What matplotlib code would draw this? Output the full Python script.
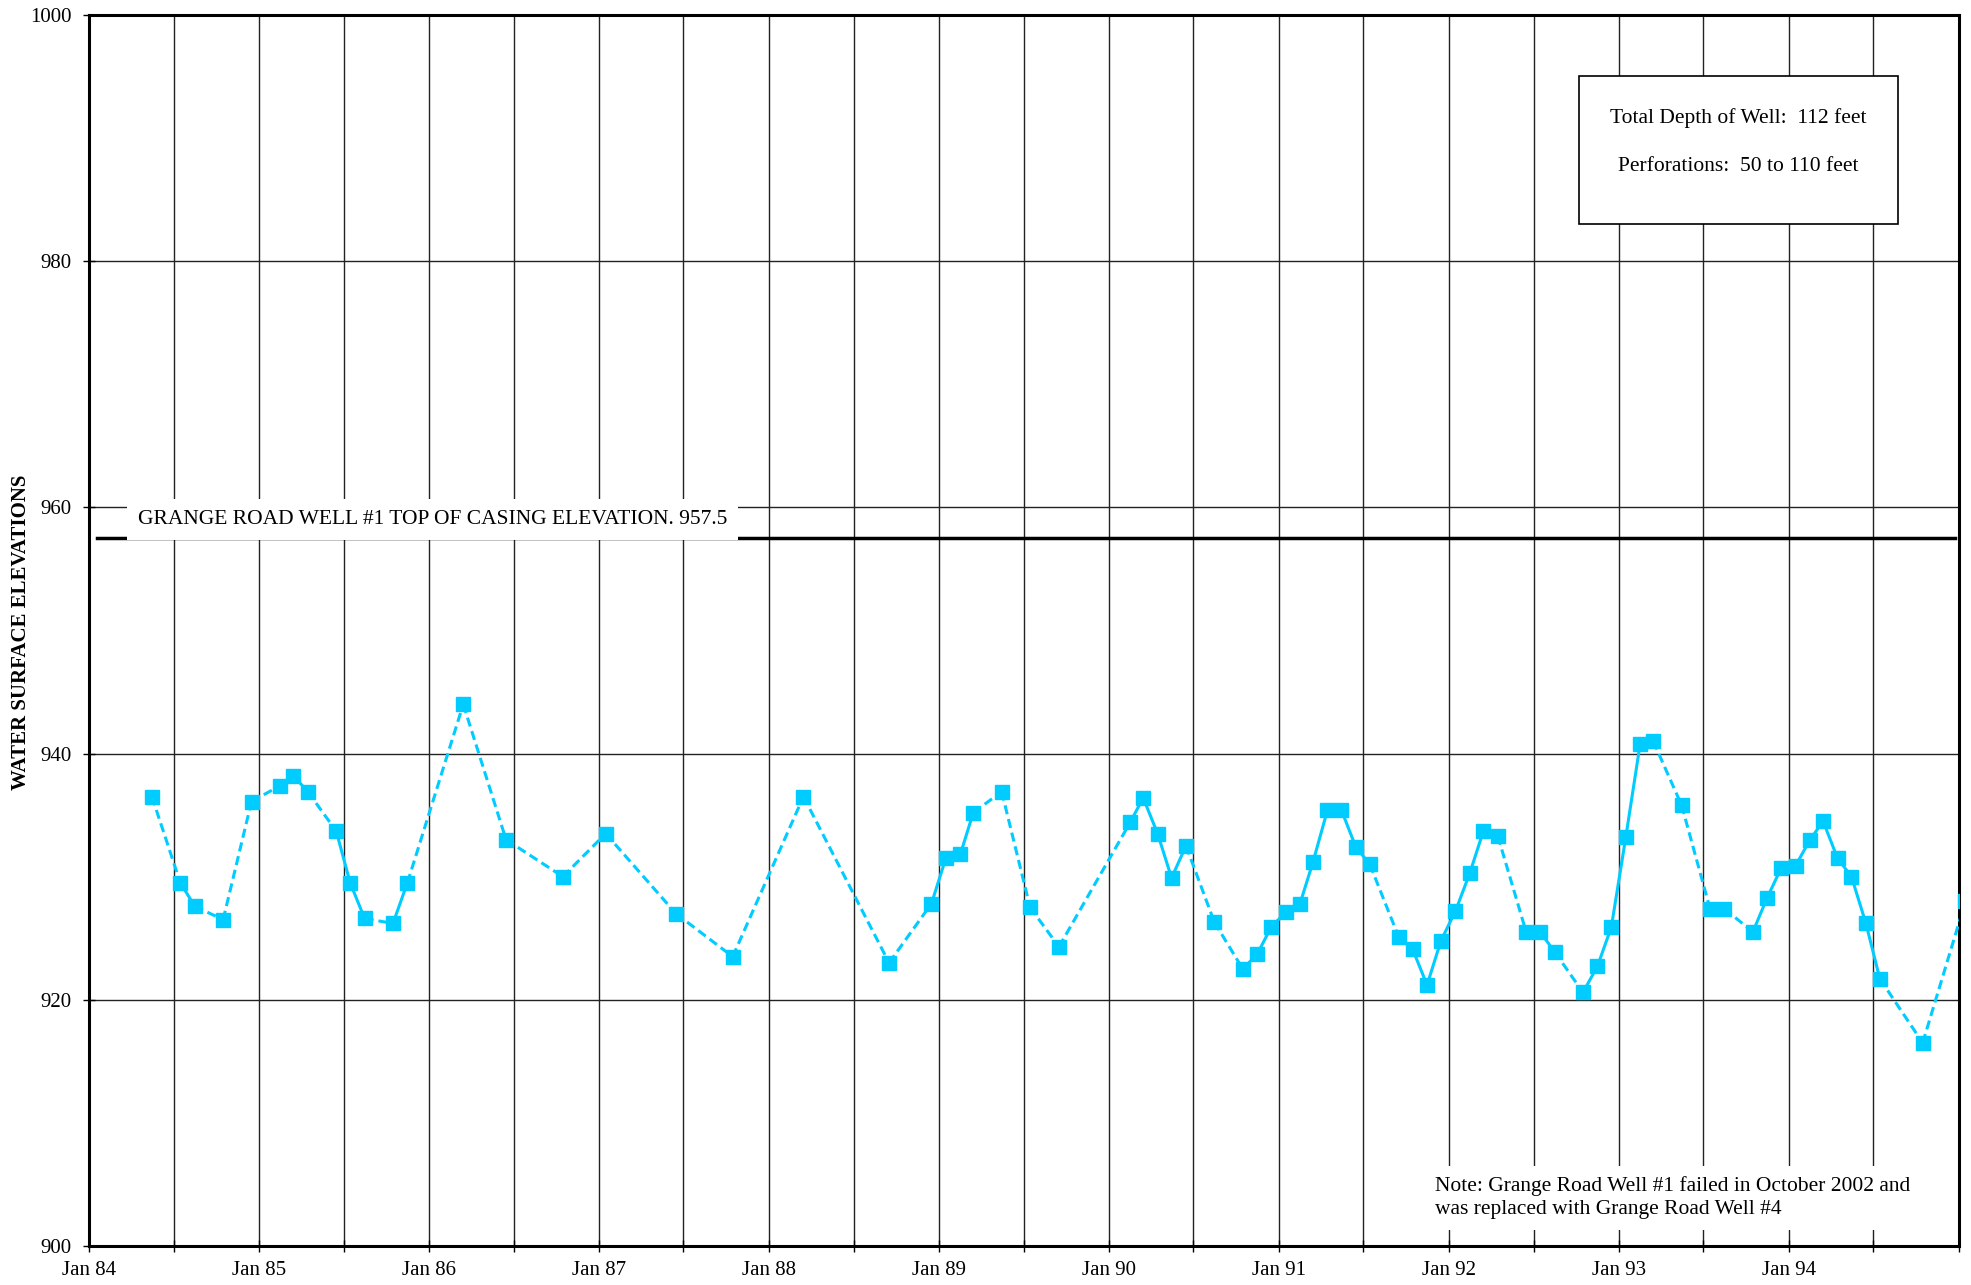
import datetime as dt
import matplotlib
matplotlib.use('Agg')
import matplotlib.pyplot as plt
import matplotlib.dates as mdates
from matplotlib.ticker import FuncFormatter
from matplotlib.patches import Rectangle

plt.rcParams['font.family'] = ['Liberation Serif', 'DejaVu Serif']

# measurement dates (year, month) and water surface elevations (feet)
years = [1984, 1984, 1984, 1984, 1984,
         1985, 1985, 1985, 1985, 1985, 1985, 1985, 1985,
         1986, 1986, 1986,
         1987, 1987, 1987,
         1988, 1988, 1988,
         1989, 1989, 1989, 1989, 1989, 1989,
         1990, 1990, 1990, 1990, 1990, 1990, 1990, 1990, 1990,
         1991, 1991, 1991, 1991, 1991, 1991, 1991, 1991, 1991, 1991, 1991,
         1992, 1992, 1992, 1992, 1992, 1992, 1992, 1992, 1992, 1992,
         1993, 1993, 1993, 1993, 1993, 1993, 1993, 1993, 1993,
         1994, 1994, 1994, 1994, 1994, 1994, 1994, 1994,
         1995]
months = [5, 7, 8, 10, 12,
          2, 3, 4, 6, 7, 8, 10, 11,
          3, 6, 10,
          1, 6, 10,
          3, 9, 12,
          1, 2, 3, 5, 7, 9,
          2, 3, 4, 5, 6, 8, 10, 11, 12,
          1, 2, 3, 4, 5, 6, 7, 9, 10, 11, 12,
          1, 2, 3, 4, 6, 7, 8, 10, 11, 12,
          1, 2, 3, 5, 7, 8, 10, 11, 12,
          1, 2, 3, 4, 5, 6, 7, 10,
          1]
elev = [936.5, 929.5, 927.6, 926.5, 936.1,
        937.4, 938.2, 936.9, 933.7, 929.5, 926.6, 926.2, 929.5,
        944.0, 933.0, 930.0,
        933.5, 927.0, 923.5,
        936.5, 923.0, 927.8,
        931.5, 931.8, 935.2, 936.9, 927.5, 924.3,
        934.4, 936.4, 933.5, 929.9, 932.5, 926.3, 922.5, 923.7, 925.9,
        927.1, 927.8, 931.2, 935.4, 935.4, 932.4, 931.0, 925.1, 924.1, 921.2, 924.8,
        927.2, 930.3, 933.7, 933.3, 925.5, 925.5, 923.9, 920.6, 922.7, 925.9,
        933.2, 940.8, 941.0, 935.8, 927.4, 927.4, 925.5, 928.3, 930.7,
        930.9, 933.0, 934.5, 931.5, 930.0, 926.2, 921.7, 916.5,
        928.0]

casing_elev = 957.5
casing_label = "GRANGE ROAD WELL #1 TOP OF CASING ELEVATION. 957.5"
info_lines = ["Total Depth of Well:  112 feet", "Perforations:  50 to 110 feet"]
note = "Note: Grange Road Well #1 failed in October 2002 and\nwas replaced with Grange Road Well #4"

dates = [dt.date(y, m, 15) for y, m in zip(years, months)]
cyan = '#00CCFF'

fig = plt.figure(figsize=(19.71, 12.85), dpi=100)
ax = fig.add_axes([0.0452, 0.0304, 0.9487, 0.9580])

# solid where readings are a month apart, dashed across longer gaps
for i in range(len(dates) - 1):
    gap = (dates[i + 1] - dates[i]).days
    ls = '-' if gap <= 35 else (0, (3, 1.6))
    ax.plot(dates[i:i + 2], elev[i:i + 2], color=cyan, lw=2.2, ls=ls, zorder=3)
ax.plot(dates, elev, ls='none', marker='s', ms=10.5, color=cyan, zorder=4)

ax.set_xlim(dt.date(1984, 1, 1), dt.date(1995, 1, 1))
ax.set_ylim(900, 1000)
ax.set_yticks(range(900, 1001, 20))
ax.xaxis.set_major_locator(mdates.YearLocator())


def fmt_date(x, pos):
    d = mdates.num2date(x)
    return '' if d.year >= 1995 else d.strftime('%b %y')


ax.xaxis.set_major_formatter(FuncFormatter(fmt_date))
ax.xaxis.set_minor_locator(mdates.MonthLocator(bymonth=7))
ax.grid(True, which='both', color='#222222', lw=1.0, zorder=1)
ax.tick_params(which='both', direction='inout', length=9, width=1.0, labelsize=15)
ax.tick_params(axis='x', pad=6)
ax.tick_params(axis='y', pad=8)
for s in ax.spines.values():
    s.set_linewidth(2.2)

# casing elevation line and label
ax.axhline(casing_elev, xmin=0.004, xmax=0.998, color='black', lw=2.5, zorder=2)
ax.text(0.0262, 959.0, casing_label, transform=ax.get_yaxis_transform(),
        fontsize=15.5, va='center', ha='left', zorder=5,
        bbox=dict(boxstyle='square,pad=0.5', fc='white', ec='none'))

# well info box
ax.add_patch(Rectangle((0.7968, 0.8302), 0.1706, 0.1203, transform=ax.transAxes,
                       fc='white', ec='black', lw=1.2, zorder=5))
ax.text(0.882, 0.9163, info_lines[0], transform=ax.transAxes, fontsize=15.5,
        ha='center', va='center', zorder=6)
ax.text(0.882, 0.8765, info_lines[1], transform=ax.transAxes, fontsize=15.5,
        ha='center', va='center', zorder=6)

# note
ax.text(0.7198, 0.039, note, transform=ax.transAxes, fontsize=15.5,
        ha='left', va='center', linespacing=1.3, zorder=5,
        bbox=dict(boxstyle='square,pad=0.5', fc='white', ec='none'))

fig.text(0.0105, 0.508, 'WATER SURFACE ELEVATIONS', rotation=90, fontsize=15,
         fontweight='bold', ha='center', va='center')

fig.savefig('out.png', dpi=100)
